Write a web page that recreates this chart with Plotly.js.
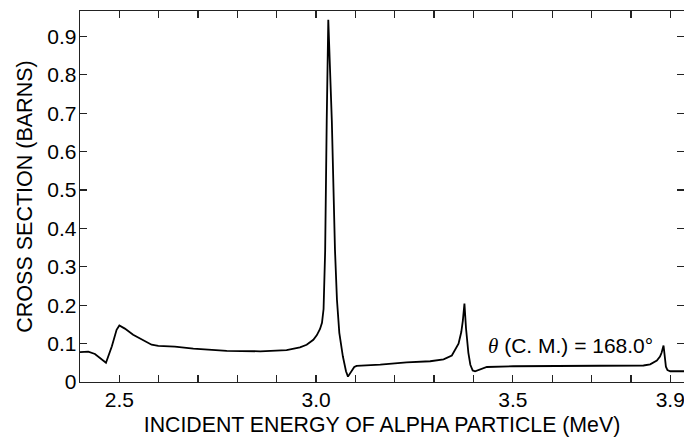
<!DOCTYPE html>
<html>
<head>
<meta charset="utf-8">
<script src="https://cdn.plot.ly/plotly-3.0.1.min.js"></script>
<style>
  html, body { margin: 0; padding: 0; background: #fff; overflow: hidden; }
  #chart { width: 684px; height: 439px; }
</style>
</head>
<body>
<div id="chart"></div>
<script>
// Incident energy (MeV)
const energy = [2.400, 2.421, 2.438, 2.455, 2.466, 2.481, 2.493, 2.500, 2.514, 2.535,
  2.557, 2.582, 2.599, 2.641, 2.688, 2.773, 2.858, 2.925, 2.959, 2.976,
  2.993, 3.002, 3.010, 3.015, 3.019, 3.021, 3.023, 3.027, 3.031, 3.040,
  3.048, 3.053, 3.059, 3.068, 3.076, 3.081, 3.086, 3.091, 3.097, 3.103,
  3.137, 3.163, 3.230, 3.290, 3.324, 3.345, 3.362, 3.369, 3.373, 3.377,
  3.381, 3.387, 3.392, 3.398, 3.404, 3.417, 3.434, 3.501, 3.671, 3.773,
  3.832, 3.849, 3.866, 3.874, 3.878, 3.883, 3.886, 3.889, 3.893, 3.900, 3.935];
// Cross section (barns)
const crossSection = [0.078, 0.079, 0.073, 0.060, 0.050, 0.093, 0.136, 0.147, 0.139, 0.123,
  0.110, 0.097, 0.094, 0.092, 0.087, 0.081, 0.080, 0.083, 0.090, 0.097,
  0.110, 0.122, 0.138, 0.154, 0.190, 0.250, 0.340, 0.680, 0.943, 0.680,
  0.344, 0.214, 0.128, 0.067, 0.028, 0.014, 0.022, 0.030, 0.039, 0.042,
  0.044, 0.045, 0.051, 0.054, 0.059, 0.069, 0.100, 0.130, 0.160, 0.204,
  0.140, 0.076, 0.045, 0.030, 0.028, 0.033, 0.039, 0.041, 0.042, 0.041,
  0.043, 0.046, 0.056, 0.066, 0.076, 0.095, 0.060, 0.040, 0.031, 0.028, 0.028];

const xTickVals = [2.5, 2.6, 2.7, 2.8, 2.9, 3.0, 3.1, 3.2, 3.3, 3.4, 3.5, 3.6, 3.7, 3.8, 3.9];
const xTickText = ['2.5', '', '', '', '', '3.0', '', '', '', '', '3.5', '', '', '', '3.9'];
const yTickVals = [0, 0.1, 0.2, 0.3, 0.4, 0.5, 0.6, 0.7, 0.8, 0.9];
const yTickText = ['0', '0.1', '0.2', '0.3', '0.4', '0.5', '0.6', '0.7', '0.8', '0.9'];

const FONT = 'Liberation Sans, Arial, Helvetica, sans-serif';
const AXC = '#222';

const trace = {
  x: energy, y: crossSection, type: 'scatter', mode: 'lines',
  line: { color: '#000', width: 1.8, shape: 'linear' },
  hoverinfo: 'skip'
};

const layout = {
  width: 684, height: 439,
  margin: { l: 80, r: 0, t: 11, b: 57 },
  paper_bgcolor: '#fff', plot_bgcolor: '#fff',
  showlegend: false,
  font: { family: FONT, size: 21, color: '#000' },
  xaxis: {
    range: [2.4, 3.935], tickmode: 'array', tickvals: xTickVals, ticktext: xTickText,
    ticks: 'inside', ticklen: 7, tickwidth: 1.3, tickcolor: AXC,
    showline: true, linecolor: AXC, linewidth: 1.3, mirror: 'ticks',
    showgrid: false, zeroline: false,
    tickfont: { family: FONT, size: 21, color: '#000' },
    ticklabelstandoff: -2, ticklabeloverflow: 'allow',
    title: { text: 'INCIDENT ENERGY OF ALPHA PARTICLE (MeV)', font: { family: FONT, size: 21.3, color: '#000' }, standoff: 7 }
  },
  yaxis: {
    range: [0, 0.966], tickmode: 'array', tickvals: yTickVals, ticktext: yTickText,
    ticks: 'inside', ticklen: 7, tickwidth: 1.3, tickcolor: AXC,
    showline: true, linecolor: AXC, linewidth: 1.3, mirror: 'ticks',
    showgrid: false, zeroline: false,
    tickfont: { family: FONT, size: 21, color: '#000' },
    ticklabelstandoff: -2, ticklabeloverflow: 'allow',
    title: { text: 'CROSS SECTION (BARNS)', font: { family: FONT, size: 21.5, color: '#000' }, standoff: 8 }
  },
  annotations: [{
    x: 3.646, y: 0.093, xref: 'x', yref: 'y', showarrow: false,
    text: '<span style="font-family:Liberation Serif, Times New Roman, serif"><i>θ</i></span> (C. M.) = 168.0°',
    font: { family: FONT, size: 21, color: '#000' }, xanchor: 'center', yanchor: 'middle'
  }]
};

Plotly.newPlot('chart', [trace], layout, { staticPlot: true, displayModeBar: false });
</script>
</body>
</html>
